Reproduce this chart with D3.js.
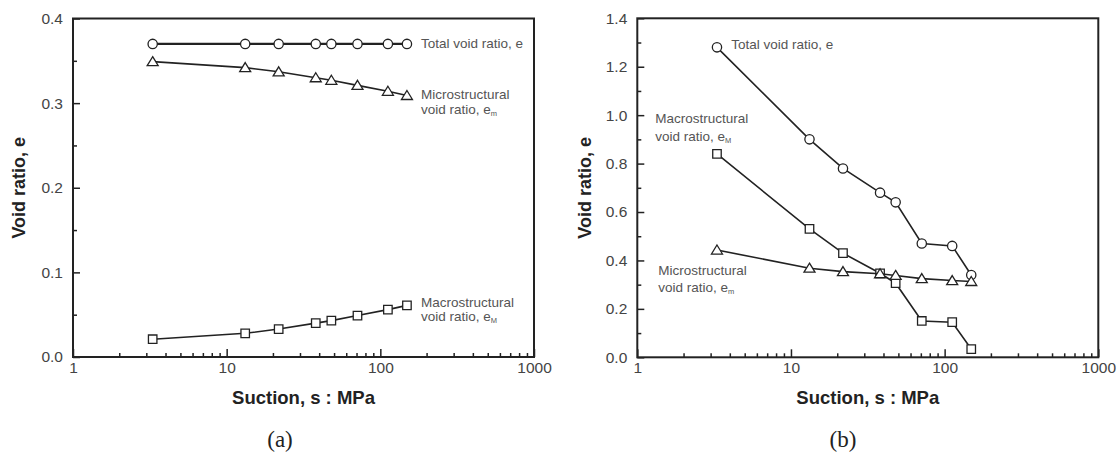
<!DOCTYPE html>
<html>
<head>
<meta charset="utf-8">
<script src="https://cdn.jsdelivr.net/npm/d3@7"></script>
<style>
  body { margin: 0; background: #fff; }
  text { font-family: "Liberation Sans", Arial, sans-serif; }
</style>
</head>
<body>
<div id="chart"></div>
<script>
// suction values (MPa), shared by both panels
var suction = [3.3, 13.2, 21.8, 38, 48, 71, 112, 149];

// panel (a)
var aTotal = [0.37, 0.37, 0.37, 0.37, 0.37, 0.37, 0.37, 0.37];
var aMicro = [0.349, 0.342, 0.337, 0.330, 0.327, 0.321, 0.314, 0.309];
var aMacro = [0.021, 0.028, 0.033, 0.040, 0.043, 0.049, 0.056, 0.061];

// panel (b)
var bTotal = [1.28, 0.90, 0.78, 0.68, 0.64, 0.47, 0.46, 0.34];
var bMacro = [0.84, 0.53, 0.43, 0.347, 0.306, 0.15, 0.145, 0.034];
var bMicro = [0.443, 0.368, 0.354, 0.345, 0.338, 0.325, 0.317, 0.313];

var xTickLabels = [1, 10, 100, 1000];
var aYTicks = [0, 0.1, 0.2, 0.3, 0.4];
var bYTicks = [0, 0.2, 0.4, 0.6, 0.8, 1.0, 1.2, 1.4];

var svg = d3.select("#chart").append("svg")
  .attr("width", 1119)
  .attr("height", 455);

var ink = "#222";

function symbolPath(kind) {
  if (kind === "circle") return d3.symbol().type(d3.symbolCircle).size(68)();
  if (kind === "square") return d3.symbol().type(d3.symbolSquare).size(72)();
  return "M0,-5L5.5,4L-5.5,4Z";
}

function drawPanel(cfg) {
  var g = svg.append("g").attr("transform", `translate(${cfg.left}, ${cfg.top})`);
  var w = cfg.width, h = cfg.height;

  var x = d3.scaleLog().domain([1, 1000]).range([0, w]);
  var y = d3.scaleLinear().domain([0, cfg.yMax]).range([h, 0]);

  // minor + major x ticks, pointing inward
  var xTicks = x.ticks();
  var xAxis = g.append("g")
    .attr("transform", `translate(0, ${h})`)
    .call(d3.axisBottom(x).tickValues(xTicks).tickSizeOuter(0)
      .tickFormat(d => xTickLabels.indexOf(d) >= 0 ? d : ""));
  xAxis.select(".domain").remove();
  xAxis.selectAll(".tick line")
    .attr("y2", d => xTickLabels.indexOf(d) >= 0 ? -8 : -4)
    .attr("stroke", ink).attr("stroke-width", 1.5);
  xAxis.selectAll(".tick text")
    .attr("y", 5).attr("dy", "0.71em")
    .attr("font-size", 15.5).attr("fill", "#444");

  // y ticks with minor ones between
  var yMinor = [];
  for (var i = 0; i < cfg.yTicks.length - 1; i++) {
    yMinor.push((cfg.yTicks[i] + cfg.yTicks[i + 1]) / 2);
  }
  var yAxis = g.append("g")
    .call(d3.axisLeft(y).tickValues(cfg.yTicks.concat(yMinor)).tickSizeOuter(0)
      .tickFormat(d => cfg.yTicks.indexOf(d) >= 0 ? d3.format(".1f")(d) : ""));
  yAxis.select(".domain").remove();
  yAxis.selectAll(".tick line")
    .attr("x2", d => cfg.yTicks.indexOf(d) >= 0 ? 7 : 4)
    .attr("stroke", ink).attr("stroke-width", 1.5);
  yAxis.selectAll(".tick text")
    .attr("x", -10)
    .attr("font-size", 15.5).attr("fill", "#444");

  // frame
  g.append("rect")
    .attr("width", w).attr("height", h)
    .attr("fill", "none").attr("stroke", ink).attr("stroke-width", 2);

  // series
  cfg.series.forEach(function(s) {
    var pts = suction.map((v, k) => [v, s.values[k]]);
    g.append("path")
      .datum(pts)
      .attr("fill", "none")
      .attr("stroke", ink)
      .attr("stroke-width", s.lw || 1.6)
      .attr("d", d3.line().x(d => x(d[0])).y(d => y(d[1])));
    g.selectAll(null)
      .data(pts)
      .enter()
      .append("path")
      .attr("transform", d => `translate(${x(d[0])}, ${y(d[1])})`)
      .attr("d", symbolPath(s.marker))
      .attr("fill", "#fff")
      .attr("stroke", ink)
      .attr("stroke-width", 1.3);
  });

  // annotations
  cfg.notes.forEach(function(n) {
    var t = g.append("text")
      .attr("x", n.x).attr("y", n.y)
      .attr("font-size", 13.5).attr("fill", "#555");
    t.append("tspan").text(n.text);
    if (n.sub) {
      t.append("tspan").attr("font-size", 7.5).attr("dy", 2).text(n.sub);
    }
  });

  // axis titles
  g.append("text")
    .attr("transform", "rotate(-90)")
    .attr("x", -h / 2)
    .attr("y", cfg.yTitleX)
    .attr("text-anchor", "middle")
    .attr("font-size", 18)
    .attr("font-weight", "bold")
    .attr("fill", "#222")
    .text("Void ratio, e");

  g.append("text")
    .attr("x", w / 2)
    .attr("y", h + 46.5)
    .attr("text-anchor", "middle")
    .attr("font-size", 18.5)
    .attr("font-weight", "bold")
    .attr("fill", "#222")
    .text("Suction, s : MPa");

  svg.append("text")
    .attr("x", cfg.captionX)
    .attr("y", 447)
    .attr("text-anchor", "middle")
    .attr("font-size", 23)
    .attr("fill", "#222")
    .style("font-family", "'Liberation Serif', 'DejaVu Serif', serif")
    .text(cfg.caption);
}

drawPanel({
  left: 73, top: 18.5, width: 461, height: 338.5,
  yMax: 0.4, yTicks: aYTicks,
  series: [
    { values: aTotal, marker: "circle", lw: 2.2 },
    { values: aMicro, marker: "triangle" },
    { values: aMacro, marker: "square" }
  ],
  notes: [
    { x: 348, y: 29.5, text: "Total void ratio, e" },
    { x: 348, y: 80, text: "Microstructural" },
    { x: 348, y: 95, text: "void ratio, e", sub: "m" },
    { x: 348, y: 288, text: "Macrostructural" },
    { x: 348, y: 302, text: "void ratio, e", sub: "M" }
  ],
  yTitleX: -48.5,
  caption: "(a)", captionX: 280
});

drawPanel({
  left: 637.3, top: 18.3, width: 461, height: 339,
  yMax: 1.4, yTicks: bYTicks,
  series: [
    { values: bTotal, marker: "circle" },
    { values: bMacro, marker: "square" },
    { values: bMicro, marker: "triangle" }
  ],
  notes: [
    { x: 94, y: 31, text: "Total void ratio, e" },
    { x: 18, y: 105, text: "Macrostructural" },
    { x: 18, y: 123, text: "void ratio, e", sub: "M" },
    { x: 21, y: 257, text: "Microstructural" },
    { x: 21, y: 274, text: "void ratio, e", sub: "m" }
  ],
  yTitleX: -46,
  caption: "(b)", captionX: 843
});
</script>
</body>
</html>
